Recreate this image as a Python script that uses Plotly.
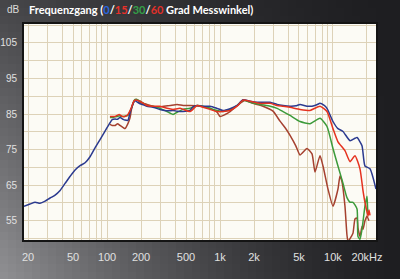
import math
import plotly.graph_objects as go

# ---------------- data ----------------
freq_0 = [18.4, 20.8, 23.1, 25.5, 28.3, 31.3, 34.7, 38.4, 42.5, 47.1, 52.1, 57.7, 63.9, 70.7, 78.3, 86.7,
          96, 106, 111, 118, 123, 130, 139, 144, 153, 160, 166, 172, 177, 184, 196, 210, 226, 255, 294,
          340, 384, 417, 471, 543, 577, 627, 708, 816, 942, 1063, 1227, 1416, 1599, 1845, 2128, 2404,
          2774, 3198, 3614, 4168, 4700, 5107, 5889, 6523, 7200, 7675, 8300, 8854, 10000, 11070, 12270,
          14160, 15670, 16330, 18070, 19190, 21270, 24040]
db_0 = [59.1, 59.7, 60.2, 59.9, 60.5, 61.4, 62.2, 63.5, 65.5, 67.5, 69.3, 70.5, 71.3, 73.0, 75.5, 77.8,
        80.2, 82.5, 83.4, 83.6, 83.5, 84.0, 83.5, 83.3, 83.2, 85.5, 87.0, 88.3, 88.8, 88.4, 87.9, 87.6,
        87.2, 86.9, 86.3, 85.9, 86.0, 85.8, 85.7, 86.0, 87.0, 87.4, 87.2, 87.2, 86.6, 86.0, 86.5, 87.4,
        89.0, 88.6, 88.3, 88.3, 88.3, 87.7, 87.4, 87.2, 87.3, 87.7, 87.2, 87.2, 87.6, 88.0, 87.5, 86.6,
        82.9, 80.9, 80.1, 77.5, 78.2, 78.4, 76.1, 70.4, 69.6, 63.9]

freq_15 = [106, 111, 117, 123, 128, 135, 144, 153, 160, 166, 172, 177, 184, 196, 226, 255, 294, 340, 384,
           443, 543, 627, 708, 816, 942, 1063, 1227, 1416, 1599, 1845, 2260, 2774, 3198, 3614, 4168, 5107,
           6265, 7675, 8854, 10000, 11070, 12770, 14160, 15670, 17340, 18440, 19190, 20400, 20830, 21270]
db_15 = [84.3, 84.3, 84.3, 84.6, 84.9, 84.4, 84.3, 84.9, 86.0, 87.2, 88.5, 88.9, 88.9, 88.6, 87.4, 87.2,
         87.2, 86.6, 86.3, 86.6, 85.7, 87.4, 86.9, 86.3, 85.7, 85.7, 86.0, 87.2, 88.9, 88.6, 88.0, 88.0,
         87.4, 87.2, 86.9, 86.3, 86.0, 87.2, 85.7, 80.9, 77.2, 74.7, 71.6, 73.3, 69.6, 63.5, 60.2, 56.3,
         58.0, 56.5]

freq_30 = [106, 111, 117, 123, 128, 135, 144, 153, 160, 166, 172, 177, 184, 196, 226, 255, 294, 340, 384,
           417, 471, 543, 627, 708, 816, 942, 1063, 1227, 1416, 1599, 1845, 2260, 2774, 3198, 3614, 4168,
           5107, 6265, 7675, 8854, 10000, 11070, 12270, 13300, 14160, 15030, 16330, 16650, 17340, 18070,
           19190, 20000, 20400, 20830]
db_30 = [84.0, 84.0, 84.2, 84.3, 84.5, 84.3, 84.4, 84.6, 85.8, 87.0, 88.5, 89.1, 89.1, 88.6, 87.4, 87.2,
         86.6, 85.7, 84.9, 85.5, 86.3, 86.6, 87.4, 87.2, 86.6, 86.0, 85.7, 86.3, 87.4, 88.9, 88.3, 87.7,
         87.2, 86.6, 85.7, 84.6, 82.9, 82.3, 83.8, 81.5, 75.3, 70.4, 65.5, 61.5, 60.2, 60.2, 58.3, 50.6,
         49.8, 52.6, 59.1, 61.9, 57.4, 57.0]

freq_60 = [106, 111, 118, 124, 130, 139, 144, 153, 160, 165, 170, 177, 184, 196, 226, 277, 361, 417, 471,
           543, 666, 816, 942, 1000, 1100, 1227, 1504, 1665, 1960, 2404, 2945, 3397, 3800, 4168, 4700,
           5107, 5889, 6523, 6935, 7675, 8163, 9037, 10000, 11070, 11536, 12013, 12770, 13300, 13590,
           14160, 15030, 15670, 16330, 16650, 17340, 18070, 18440, 19190, 20000, 20830]
db_60 = [82.1, 81.8, 81.8, 82.3, 81.8, 81.2, 80.9, 82.3, 84.0, 86.5, 88.0, 88.9, 89.1, 88.3, 87.7, 86.9,
         87.4, 87.7, 87.4, 87.4, 87.2, 86.6, 85.5, 84.3, 84.8, 85.7, 88.0, 88.9, 88.0, 87.2, 85.8, 83.0,
         81.0, 79.0, 76.0, 73.5, 75.3, 73.8, 68.7, 73.3, 70.4, 63.9, 59.1, 63.9, 67.6, 66.0, 59.1, 51.0,
         49.2, 50.0, 51.5, 55.5, 55.8, 53.0, 50.6, 53.4, 52.6, 55.0, 56.3, 55.0]

x_grid = [20, 30, 40, 50, 60, 70, 80, 90, 100, 200, 300, 400, 500, 600, 700, 800, 900,
          1000, 2000, 3000, 4000, 5000, 6000, 7000, 8000, 9000, 10000, 20000]
x_labels = {20: "20", 50: "50", 100: "100", 200: "200", 500: "500", 1000: "1k",
            2000: "2k", 5000: "5k", 10000: "10k", 20000: "20kHz"}
y_grid = [50, 55, 60, 65, 70, 75, 80, 85, 90, 95, 100, 105, 110]
y_labels = [55, 65, 75, 85, 95, 105]

# ---------------- figure ----------------
W, H = 400, 279
L, R, T, B = 24, 376, 24, 240
FONT = "Lato, Liberation Sans, sans-serif"
TICKFONT = "Liberation Sans, Arial, sans-serif"

fig = go.Figure()
series = [
    (freq_60, db_60, "#a5412f", "60°"),
    (freq_30, db_30, "#3c9a3a", "30°"),
    (freq_0, db_0, "#2b3a8f", "0°"),
    (freq_15, db_15, "#e5321f", "15°"),
]
for fx, dy, col, name in series:
    fig.add_trace(go.Scatter(x=fx, y=dy, mode="lines", name=name, showlegend=False,
                             line=dict(color=col, width=1.5, shape="spline", smoothing=0.5),
                             hoverinfo="skip"))

# dark photographed frame (gradient imitation)
def lum(px, py):
    fx = max(0.0, 1 - px / 400) ** 1.4
    fy = 0.35 + 0.65 * py / 279
    return int(30 + 115 * fx * fy)

def to_paper(px, py):
    return (px - L) / (R - L), (B - py) / (B - T)

shapes = []
bands = [(0, W, 0, T), (0, W, B, H), (0, L, T, B), (R, W, T, B)]
step = 8
for bx0, bx1, by0, by1 in bands:
    gx = bx0
    while gx < bx1:
        gx1 = min(gx + step, bx1)
        gy = by0
        while gy < by1:
            gy1 = min(gy + step, by1)
            v = lum((gx + gx1) / 2, (gy + gy1) / 2)
            xa, ya = to_paper(gx, gy)
            xb, yb = to_paper(gx1, gy1)
            shapes.append(dict(type="rect", xref="paper", yref="paper", x0=xa, x1=xb, y0=yb, y1=ya,
                               line=dict(width=0), fillcolor=f"rgb({v},{v},{v + 3})", layer="below"))
            gy = gy1
        gx = gx1

title_txt = ("Frequenzgang (<span style='color:#2a66e0'>0</span>/"
             "<span style='color:#e8302a'>15</span>/"
             "<span style='color:#34a048'>30</span>/"
             "<span style='color:#e0302a'>60</span> Grad Messwinkel)")

fig.update_layout(
    width=W, height=H,
    margin=dict(l=L, r=W - R, t=T, b=H - B, pad=0),
    paper_bgcolor="#2a2a2a",
    plot_bgcolor="#fcfbf5",
    shapes=shapes,
    annotations=[
        dict(text=f"<b>{title_txt}</b>", xref="paper", yref="paper",
             x=to_paper(27, 0)[0], y=to_paper(0, 10)[1], xanchor="left", yanchor="middle",
             showarrow=False, font=dict(family=FONT, size=11, color="#ffffff")),
        dict(text="dB", xref="paper", yref="paper",
             x=to_paper(5, 0)[0], y=to_paper(0, 10)[1], xanchor="left", yanchor="middle",
             showarrow=False, font=dict(family=TICKFONT, size=10, color="#dcdcdc")),
    ],
    xaxis=dict(type="log", range=[math.log10(18.4), math.log10(24040)], automargin=False,
               tickvals=x_grid, ticktext=[x_labels.get(v, "") for v in x_grid],
               showgrid=True, gridcolor="#ddd2b8", gridwidth=1, zeroline=False,
               showline=True, linecolor="#141414", linewidth=2, mirror=True, ticks="",
               ticklabelstandoff=6,
               tickfont=dict(family=TICKFONT, size=11, color="#e0e0e0")),
    yaxis=dict(range=[49.6, 110.3], tickvals=y_grid, automargin=False,
               ticktext=[str(v) if v in y_labels else "" for v in y_grid],
               showgrid=True, gridcolor="#ddd2b8", gridwidth=1, zeroline=False,
               showline=True, linecolor="#141414", linewidth=2, mirror=True, ticks="",
               ticklabelstandoff=3,
               tickfont=dict(family=TICKFONT, size=10, color="#e0e0e0")),
)

fig.write_html("out.html")
